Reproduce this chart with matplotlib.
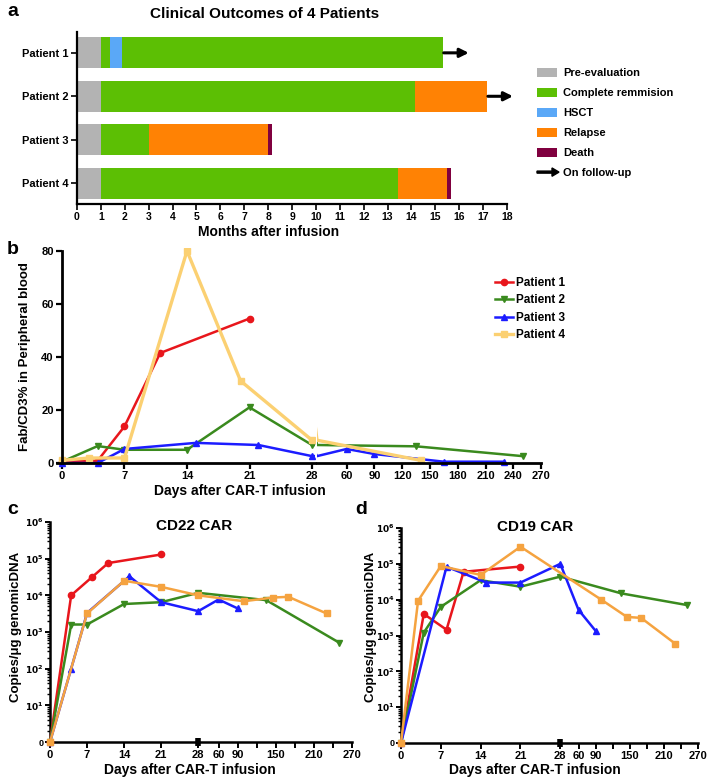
import numpy as np
import matplotlib
matplotlib.use("Agg")
import matplotlib.pyplot as plt
from matplotlib.patches import Patch, FancyArrow
from matplotlib.legend_handler import HandlerPatch
from matplotlib.ticker import LogLocator, NullFormatter

plt.rcParams['font.family'] = ['Liberation Sans', 'DejaVu Sans']
plt.rcParams['font.weight'] = 'bold'
plt.rcParams['axes.labelweight'] = 'bold'

# ---------------- panel a: clinical outcomes ----------------
patients = ['Patient 1', 'Patient 2', 'Patient 3', 'Patient 4']
p1_stages = ['Pre-evaluation', 'Complete remmision', 'HSCT', 'Complete remmision']
p1_months = [1.0, 0.38, 0.5, 13.42]
p2_stages = ['Pre-evaluation', 'Complete remmision', 'Relapse']
p2_months = [1.0, 13.15, 3.0]
p3_stages = ['Pre-evaluation', 'Complete remmision', 'Relapse', 'Death']
p3_months = [1.0, 2.0, 5.0, 0.15]
p4_stages = ['Pre-evaluation', 'Complete remmision', 'Relapse', 'Death']
p4_months = [1.0, 12.45, 2.05, 0.15]
on_follow_up = [True, True, False, False]

stage_names = ['Pre-evaluation', 'Complete remmision', 'HSCT', 'Relapse', 'Death']
stage_colors = ['#b3b3b3', '#5cbf04', '#5aa8f7', '#ff8204', '#80003f']

# ---------------- panel b: Fab/CD3% ----------------
b_days_p1 = [0, 4, 7, 11, 21]
b_vals_p1 = [0.5, 0.9, 13.8, 41.5, 54.5]
b_days_p2 = [0, 4, 7, 14, 21, 28, 135, 250]
b_vals_p2 = [0.5, 6.4, 5.0, 5.0, 21.0, 6.8, 6.3, 2.6]
b_days_p3 = [0, 4, 7, 15, 22, 28, 60, 90, 165, 230]
b_vals_p3 = [0.0, 0.0, 5.3, 7.6, 6.8, 2.6, 5.3, 3.4, 0.5, 0.5]
b_days_p4 = [0, 3, 7, 14, 20, 28, 140]
b_vals_p4 = [1.0, 1.9, 1.9, 80.0, 31.0, 8.6, 1.0]

# ---------------- panel c: CD22 CAR copies ----------------
c_days_p1 = [0, 4, 8, 11, 21]
c_vals_p1 = [1, 1.0e4, 3.2e4, 7.6e4, 1.3e5]
c_days_p2 = [0, 4, 7, 14, 21, 28, 135, 250]
c_vals_p2 = [1, 1600, 1600, 5800, 6500, 1.17e4, 7400, 510]
c_days_p3 = [0, 4, 7, 15, 21, 28, 60, 90]
c_vals_p3 = [1, 100, 3300, 3.3e4, 6500, 3700, 7700, 4400]
c_days_p4 = [0, 7, 14, 21, 28, 100, 145, 170, 230]
c_vals_p4 = [1, 3200, 2.5e4, 1.7e4, 1.0e4, 6900, 8700, 9100, 3200]

# ---------------- panel d: CD19 CAR copies ----------------
d_days_p1 = [0, 4, 8, 11, 21]
d_vals_p1 = [1, 4000, 1450, 6.0e4, 8.4e4]
d_days_p2 = [0, 4, 7, 14, 21, 28, 135, 250]
d_vals_p2 = [1, 1200, 6300, 3.5e4, 2.3e4, 4.4e4, 1.5e4, 7100]
d_days_p3 = [0, 8, 15, 21, 28, 60, 90]
d_vals_p3 = [1, 8.3e4, 3.0e4, 3.0e4, 1.0e5, 5200, 1350]
d_days_p4 = [0, 3, 7, 14, 21, 100, 145, 170, 230]
d_vals_p4 = [1, 9300, 8.7e4, 4.9e4, 3.0e5, 1.0e4, 3300, 3100, 590]

col_p1 = '#e8161c'
col_p2 = '#3a8a1e'
col_p3 = '#1c1cff'
col_p4_b = '#fbd072'
col_p4_cd = '#f5a340'
markers = ['o', 'v', '^', 's']

W, H = 708, 779
fig = plt.figure(figsize=(W / 100, H / 100), dpi=100)


def box(l, t, r, b):
    return [l / W, 1 - b / H, (r - l) / W, (b - t) / H]


# ======== a ========
axa = fig.add_axes(box(77, 32, 507, 204))
stage_list = [p1_stages, p2_stages, p3_stages, p4_stages]
month_list = [p1_months, p2_months, p3_months, p4_months]
for i in range(len(patients)):
    start = 0
    for st, m in zip(stage_list[i], month_list[i]):
        axa.barh(i, m, left=start, height=0.72,
                 color=stage_colors[stage_names.index(st)], edgecolor='none')
        start += m
    if on_follow_up[i]:
        axa.annotate('', xy=(start + 1.1, i), xytext=(start + 0.05, i),
                     arrowprops=dict(arrowstyle='-|>', color='k', lw=2.2,
                                     mutation_scale=13, shrinkA=0, shrinkB=0),
                     annotation_clip=False)
axa.set_ylim(3.48, -0.48)
axa.set_xlim(0, 18)
axa.set_yticks(range(4))
axa.set_yticklabels(patients, fontsize=8, fontweight='bold')
axa.set_xticks(range(19))
axa.set_xticklabels([str(v) for v in range(19)], fontsize=7.5, fontweight='bold')
for s in ['top', 'right']:
    axa.spines[s].set_visible(False)
for s in ['left', 'bottom']:
    axa.spines[s].set_linewidth(1.6)
axa.tick_params(width=1.2, length=4, pad=2)
fig.text(265 / W, 1 - 14 / H, 'Clinical Outcomes of 4 Patients', ha='center',
         va='center', fontsize=11, fontweight='bold')
fig.text(269 / W, 1 - 232 / H, 'Months after infusion', ha='center',
         va='center', fontsize=10, fontweight='bold')


class HandlerArrow(HandlerPatch):
    def create_artists(self, legend, orig_handle, xdescent, ydescent, width,
                       height, fontsize, trans):
        arr = FancyArrow(-xdescent, height / 2 - ydescent, width * 1.1, 0,
                         width=height * 0.22, head_width=height * 0.9,
                         head_length=width * 0.35, length_includes_head=True,
                         color='k')
        arr.set_transform(trans)
        return [arr]


arrow_handle = FancyArrow(0, 0, 1, 0)
leg_handles = [Patch(facecolor=c, edgecolor='none') for c in stage_colors]
leg_handles.append(arrow_handle)
fig.legend(leg_handles, stage_names + ['On follow-up'],
           handler_map={FancyArrow: HandlerArrow()},
           loc='center left', bbox_to_anchor=(537 / W, 1 - 123 / H),
           frameon=False, borderpad=0, borderaxespad=0,
           prop=dict(weight='bold', size=8), handlelength=1.8,
           handleheight=0.9, handletextpad=0.55, labelspacing=0.85)

# ======== b (broken x axis: two axes) ========
y_lo, y_hi = -1.5, 81
axb1 = fig.add_axes(box(56.6, 248.3, 314.7, 467))
axb2 = fig.add_axes(box(317, 248.3, 543, 467))
b_sets = [(b_days_p1, b_vals_p1, col_p1, 1.8),
          (b_days_p2, b_vals_p2, col_p2, 1.8),
          (b_days_p3, b_vals_p3, col_p3, 1.8),
          (b_days_p4, b_vals_p4, col_p4_b, 2.4)]
for k, (dd, vv, cc, lw) in enumerate(b_sets):
    axb1.plot(dd, vv, color=cc, lw=lw, marker=markers[k], ms=4.5,
              label='Patient %d' % (k + 1))
    late = [j for j, d in enumerate(dd) if d > 28]
    axb2.plot(dd, vv, color=cc, lw=lw, marker=markers[k], ms=4.5,
              markevery=late)
for ax in (axb1, axb2):
    ax.set_ylim(y_lo, y_hi)
    ax.spines['top'].set_visible(False)
    ax.spines['right'].set_visible(False)
    ax.spines['bottom'].set_position(('data', 0))
    ax.spines['bottom'].set_linewidth(2)
    ax.tick_params(width=1.6, length=4, pad=2, labelsize=8)
axb1.set_xlim(-0.6, 28.3)
axb1.spines['left'].set_position(('data', 0))
axb1.spines['left'].set_bounds(0, 80)
axb1.spines['left'].set_linewidth(2)
axb1.set_xticks([0, 7, 14, 21, 28])
axb1.set_yticks([0, 20, 40, 60, 80])
axb2.set_xlim(28, 272)
axb2.spines['left'].set_visible(False)
axb2.spines['bottom'].set_bounds(28, 270)
axb2.set_yticks([])
axb2.set_xticks([60, 90, 120, 150, 180, 210, 240, 270])
for ax in (axb1, axb2):
    for lab in ax.get_xticklabels() + ax.get_yticklabels():
        lab.set_fontweight('bold')
fig.text(240 / W, 1 - 491 / H, 'Days after CAR-T infusion', ha='center',
         va='center', fontsize=10, fontweight='bold')
fig.text(25 / W, 1 - 357 / H, 'Fab/CD3% in Peripheral blood', ha='center',
         va='center', rotation=90, fontsize=9.5, fontweight='bold')
hb, lb = axb1.get_legend_handles_labels()
fig.legend(hb, lb, loc='center left', bbox_to_anchor=(495 / W, 1 - 309 / H),
           frameon=False, borderpad=0, borderaxespad=0,
           prop=dict(weight='bold', size=8.5), handlelength=1.5,
           handletextpad=0.3, labelspacing=0.45)


# ======== c, d ========
def make_scale(k):
    def fwd(x):
        x = np.asarray(x, dtype=float)
        return np.where(x <= 28, x, 28 + (x - 28) * k)

    def inv(y):
        y = np.asarray(y, dtype=float)
        return np.where(y <= 28, y, 28 + (y - 28) / k)
    return fwd, inv


def copies_panel(rect, k, sets, title, title_xy, ylab_x):
    ax = fig.add_axes(rect)
    ax.set_xscale('function', functions=make_scale(k))
    ax.set_yscale('log')
    for j, (dd, vv, cc) in enumerate(sets):
        ax.plot(dd, vv, color=cc, lw=1.8, marker=markers[j], ms=4.5,
                clip_on=False, zorder=3)
    ax.set_xlim(0, 270)
    ax.set_ylim(1, 1e6)
    ax.set_xticks([0, 7, 14, 21, 28, 60, 90, 120, 150, 180, 210, 240, 270])
    ax.set_xticklabels(['0', '7', '14', '21', '28', '60', '90', '', '150', '',
                        '210', '', '270'], fontsize=8, fontweight='bold')
    ax.set_yticks([1, 10, 100, 1e3, 1e4, 1e5, 1e6])
    ax.set_yticklabels(['0', '$10^1$', '$10^2$', '$10^3$', '$10^4$', '$10^5$',
                        '$10^6$'], fontsize=6.5)
    ax.yaxis.set_minor_locator(LogLocator(base=10, subs=np.arange(2, 10)))
    ax.yaxis.set_minor_formatter(NullFormatter())
    ax.tick_params(axis='x', which='major', width=1.4, length=4, pad=2)
    ax.tick_params(axis='y', which='major', width=1.4, length=3.5, pad=1)
    ax.tick_params(which='minor', width=1.0, length=2.5)
    for s in ['top', 'right']:
        ax.spines[s].set_visible(False)
    for s in ['left', 'bottom']:
        ax.spines[s].set_linewidth(1.8)
    # axis break mark at day 28
    ax.plot([28, 28], [-0.018, 0.018], color='k', lw=4, solid_capstyle='butt',
            transform=ax.get_xaxis_transform(), clip_on=False, zorder=4)
    fig.text(title_xy[0] / W, 1 - title_xy[1] / H, title, ha='center',
             va='center', fontsize=11, fontweight='bold')
    fig.text(ylab_x / W, 1 - 627 / H, 'Copies/\u03bcg genomicDNA', ha='center',
             va='center', rotation=90, fontsize=9.5, fontweight='bold')
    return ax


c_sets = [(c_days_p1, c_vals_p1, col_p1), (c_days_p2, c_vals_p2, col_p2),
          (c_days_p3, c_vals_p3, col_p3), (c_days_p4, c_vals_p4, col_p4_cd)]
d_sets = [(d_days_p1, d_vals_p1, col_p1), (d_days_p2, d_vals_p2, col_p2),
          (d_days_p3, d_vals_p3, col_p3), (d_days_p4, d_vals_p4, col_p4_cd)]
axc = copies_panel(box(50, 522, 352, 742), 0.12, c_sets, 'CD22 CAR', (194, 526), 16)
axd = copies_panel(box(401, 528, 698, 743), 0.10, d_sets, 'CD19 CAR', (535, 527), 371)
fig.text(190 / W, 1 - 770 / H, 'Days after CAR-T infusion', ha='center',
         va='center', fontsize=10, fontweight='bold')
fig.text(535 / W, 1 - 770 / H, 'Days after CAR-T infusion', ha='center',
         va='center', fontsize=10, fontweight='bold')

# panel letters
for lt, x, y in [('a', 7, 12), ('b', 7, 250), ('c', 7, 510), ('d', 355, 510)]:
    fig.text(x / W, 1 - y / H, lt, ha='left', va='center', fontsize=14,
             fontweight='bold')

fig.savefig('out.png', dpi=100)
